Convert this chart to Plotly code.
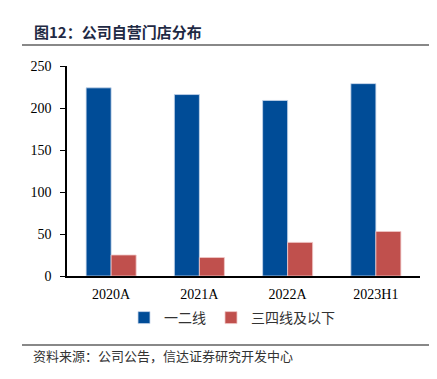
import plotly.graph_objects as go

categories = ["2020A", "2021A", "2022A", "2023H1"]
tier12 = [224, 216, 209, 229]
tier34 = [25, 22, 40, 53]
series_names = ["一二线", "三四线及以下"]
y_ticks = [0, 50, 100, 150, 200, 250]

# page body has an 8px margin; figure sized to fit inside the window
OFF = 8
W, H = 437 - 2 * OFF, 379 - 2 * OFF
L, R, T, B = 67 - OFF, 420 - OFF, 66 - OFF, 276 - OFF  # plot area in figure px
PW, PH = R - L, B - T


def px(x):
    return (x - OFF - L) / PW


def py(y):
    return 1 - (y - OFF - T) / PH


fig = go.Figure()
fig.add_trace(go.Bar(x=categories, y=tier12, name=series_names[0],
                     marker=dict(color="#004C97", line=dict(color="rgba(200,215,235,0.8)", width=1))))
fig.add_trace(go.Bar(x=categories, y=tier34, name=series_names[1],
                     marker=dict(color="#C0504D", line=dict(color="rgba(240,200,200,0.8)", width=1))))

fig.update_layout(
    width=W, height=H,
    margin=dict(l=L, r=W - R, t=T, b=H - B, autoexpand=False),
    paper_bgcolor="white", plot_bgcolor="white",
    barmode="group", bargap=0.433, bargroupgap=0,
    showlegend=True,
    legend=dict(orientation="h", xref="container", yref="container",
                x=(232 - OFF) / W, xanchor="center", y=1 - (318 - OFF) / H, yanchor="middle",
                font=dict(family="Noto Sans CJK SC", size=14, color="#333"),
                itemwidth=30, traceorder="normal"),
    font=dict(family="Liberation Serif", size=14, color="black"),
)
fig.update_xaxes(showline=True, linecolor="black", linewidth=1.5, ticks="",
                 tickfont=dict(family="Liberation Serif", size=14, color="black"),
                 range=[-0.5, 3.5], ticklabelstandoff=4)
fig.update_yaxes(range=[0, 250], tickvals=y_ticks, showline=True, linecolor="black",
                 linewidth=1.5, ticks="outside", ticklen=5, tickcolor="black",
                 showgrid=False, zeroline=False, ticklabelstandoff=6,
                 tickfont=dict(family="Liberation Serif", size=14, color="black"))

# title & footer
fig.add_annotation(text="<b>图12：公司自营门店分布</b>", xref="paper", yref="paper",
                   x=px(32), y=py(32), xanchor="left", yanchor="middle",
                   showarrow=False, font=dict(family="Noto Sans CJK SC", size=15, color="#1f2a44"))
fig.add_annotation(text="资料来源：公司公告，信达证券研究开发中心", xref="paper", yref="paper",
                   x=px(31), y=py(355), xanchor="left", yanchor="middle",
                   showarrow=False, font=dict(family="Noto Sans CJK SC", size=13, color="#333"))
for yy in (45, 345):
    fig.add_shape(type="line", xref="paper", yref="paper",
                  x0=px(22), x1=px(430), y0=py(yy), y1=py(yy),
                  line=dict(color="#888888", width=2))

fig.write_html("out.html")
